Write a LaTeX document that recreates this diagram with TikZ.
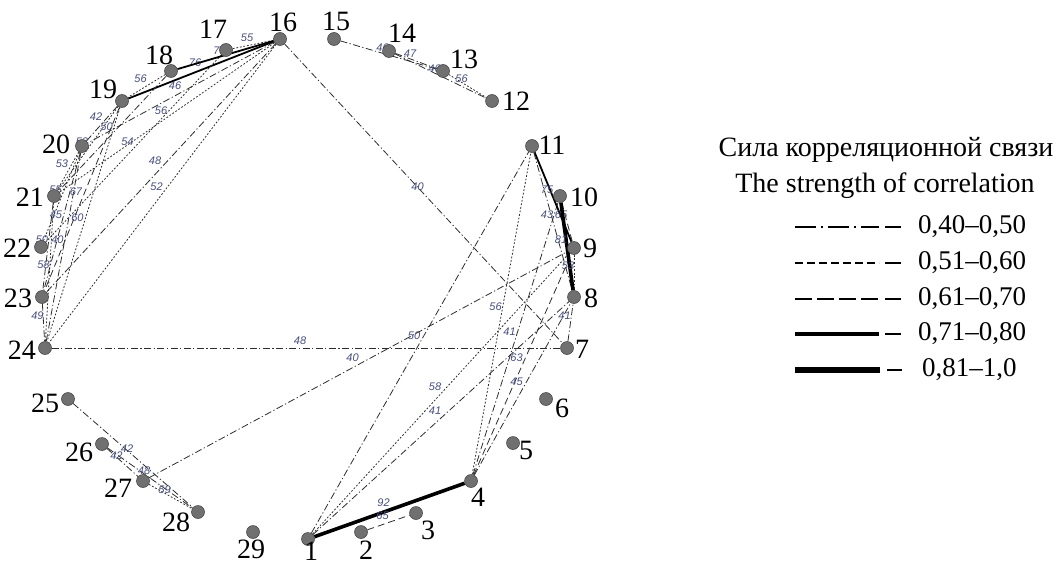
\documentclass[tikz,border=0pt]{standalone}
\usepackage{fontspec}
\setmainfont{Liberation Serif}
\newfontfamily\lblfont{Liberation Sans}
\usetikzlibrary{backgrounds}
\definecolor{nodefill}{RGB}{112,112,112}
\definecolor{nodeline}{RGB}{60,60,60}
\definecolor{edgec}{RGB}{45,45,45}
\definecolor{labc}{RGB}{70,78,125}
\begin{document}
\begin{tikzpicture}[x=1pt,y=-1pt,
  pt/.style={circle, draw=nodeline, fill=nodefill, line width=0.5pt, minimum size=13pt, inner sep=0pt},
  num/.style={font=\fontsize{28}{28}\selectfont, inner sep=0pt},
  elab/.style={font=\lblfont\itshape\fontsize{11}{11}\selectfont, text=labc, inner sep=0pt, xshift=-6pt, yshift=7pt},
  rA/.style={draw=edgec, line width=0.8pt, dash pattern=on 7pt off 2.5pt on 1.2pt off 2.5pt},
  rB/.style={draw=edgec, line width=0.8pt, dash pattern=on 1.8pt off 1.8pt},
  rC/.style={draw=edgec, line width=0.8pt, dash pattern=on 7pt off 4pt},
  rD/.style={draw=black, line width=1.8pt},
  rE/.style={draw=black, line width=3.6pt},
  legt/.style={font=\fontsize{28}{28}\selectfont, inner sep=0pt},
  legv/.style={font=\fontsize{27}{27}\selectfont, inner sep=0pt, anchor=west},
  legA/.style={draw=black, line width=2.4pt, dash pattern=on 21pt off 5pt on 2pt off 5pt},
  legB/.style={draw=black, line width=2.4pt, dash pattern=on 8pt off 4pt},
  legC/.style={draw=black, line width=2.4pt, dash pattern=on 17pt off 5pt},
  legD/.style={draw=black, line width=3.2pt},
  legE/.style={draw=black, line width=6.5pt},
  legS/.style={draw=black, line width=2.4pt}
]
\useasboundingbox (0,0) rectangle (1059,567);
% vertices
\foreach \i/\x/\y in {1/308/539,2/361/532,3/416/513,4/471/481,5/513/443,6/546/399,7/567/348,8/574/297,9/574/248,10/560/196,11/532/146,12/492/101,13/443/71,14/389/51,15/334/39,16/280/39,17/226/50,18/171/71,19/122/101,20/82/146,21/54/196,22/41/247,23/42/297,24/45/348,25/68/399,26/102/444,27/143/481,28/198/512,29/253/532}
  \node[pt] (n\i) at (\x,\y) {};
% vertex numbers
\foreach \i/\x/\y in {1/311/551,2/366/550,3/428/530,4/478/497,5/526/450,6/562/408,7/582/349,8/591/298,9/590/248,10/584/197,11/552/145,12/516/101,13/464/59,14/402/33,15/336/21,16/283/22,17/213/29,18/159/55,19/103/89,20/56/144,21/30/197,22/17/248,23/18/298,24/22/350,25/45/403,26/79/452,27/118/488,28/176/522,29/251/549}
  \node[num] (t\i) at (\x,\y) {\i};
% edges
\begin{scope}[on background layer]
\foreach \a/\b/\s/\v in {
  1/4/rE/92, 2/3/rC/65, 1/11/rA/50, 1/9/rB/58, 1/8/rA/41,
  4/11/rB/56, 4/10/rA/41, 4/9/rC/63, 4/8/rA/45, 7/8/rA/41,
  24/7/rA/48, 16/7/rA/40, 27/9/rA/40,
  11/9/rD/75, 11/8/rA/43, 10/9/rC/65, 10/8/rE/81, 9/8/rB/53,
  15/13/rA/46, 14/13/rA/47, 14/12/rA/46, 13/12/rB/56,
  25/28/rA/42, 26/27/rA/42, 26/28/rA/48, 27/28/rB/59,
  16/17/rB/55, 16/19/rD/76, 16/20/rA/46, 18/19/rB/56,
  16/21/rB/56, 17/22/rB/54, 16/23/rA/48, 16/24/rB/52, 18/21/rA/50,
  19/20/rA/42, 19/21/rB/53, 20/21/rB/53, 20/22/rB/55, 19/23/rC/67,
  20/23/rA/45, 19/24/rB/60, 21/23/rA/50, 20/24/rA/40, 21/24/rB/58,
  23/24/rA/49}
  \draw[\s] (n\a) -- node[elab] {\v} (n\b);
\draw[rD] (n16) -- node[elab, yshift=-3pt] {73} (n18);
\end{scope}
% legend
\node[legt] (lt1) at (886,150) {Сила корреляционной связи};
\node[legt] (lt2) at (885,186) {The strength of correlation};
\foreach \k/\y/\s/\t in {1/227/legA/{0,40–0,50},2/263/legB/{0,51–0,60},3/299/legC/{0,61–0,70},4/334/legD/{0,71–0,80}}{
  \draw[\s] (795,\y) -- (879,\y);
  \draw[legS] (885,\y) -- (901,\y);
  \node[legv] (lv\k) at (918,\y) {\t};
}
\draw[legE] (795,370) -- (880,370);
\draw[legS] (887,370) -- (902,370);
\node[legv] (lv5) at (922,370) {0,81–1,0};
\end{tikzpicture}
\end{document}
